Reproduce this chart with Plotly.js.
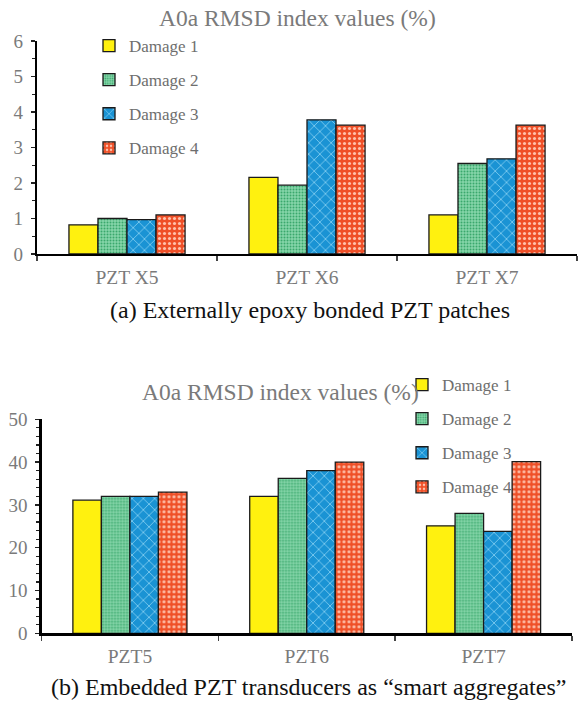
<!DOCTYPE html>
<html>
<head>
<meta charset="utf-8">
<script src="https://cdn.plot.ly/plotly-3.0.1.min.js"></script>
<style>html,body{margin:0;padding:0;background:#fff}#chart{width:584px;height:701px}</style>
</head>
<body>
<div id="chart"></div>
<script>
// ---- data ----
const seriesNames = ["Damage 1", "Damage 2", "Damage 3", "Damage 4"];
const catsA = ["PZT X5", "PZT X6", "PZT X7"];
const catsB = ["PZT5", "PZT6", "PZT7"];
const dmg1A = [0.82, 2.16, 1.10];
const dmg2A = [1.00, 1.94, 2.55];
const dmg3A = [0.97, 3.78, 2.68];
const dmg4A = [1.10, 3.63, 3.63];
const dmg1B = [31.1, 32.0, 25.1];
const dmg2B = [32.0, 36.2, 28.0];
const dmg3B = [32.0, 38.0, 23.8];
const dmg4B = [33.0, 40.0, 40.1];
const titleA = "A0a RMSD index values (%)";
const titleB = "A0a RMSD index values (%)";
const captionA = "(a) Externally epoxy bonded PZT patches";
const captionB = "(b) Embedded PZT transducers as \u201csmart aggregates\u201d";

// ---- styles ----
const FONT = "'Liberation Serif', 'Times New Roman', serif";
const GRAY = "#7a7a7a";
const styles = [
  {color: "#fff10f", pattern: {shape: ""}},
  {color: "#80d3a6", pattern: {shape: ".", bgcolor: "#86d6aa", fgcolor: "#3aa86c", size: 3, solidity: 0.35}},
  {color: "#1b95d5", pattern: {shape: "x", bgcolor: "#1a93d4", fgcolor: "#8fd4f4", size: 8, solidity: 0.18}},
  {color: "#f0522a", pattern: {shape: ".", bgcolor: "#ef5028", fgcolor: "#ffc2ad", size: 5, solidity: 0.3}}
];
const W = 584, H = 701;
const A = {l: 37, r: 577, t: 41, b: 254};
const B = {l: 41.5, r: 572, t: 419.3, b: 633.3};

const seriesA = [dmg1A, dmg2A, dmg3A, dmg4A];
const seriesB = [dmg1B, dmg2B, dmg3B, dmg4B];
const traces = [];
seriesA.forEach((vals, i) => {
  traces.push({
    type: "bar", name: seriesNames[i], x: catsA, y: vals, xaxis: "x", yaxis: "y",
    legend: "legend", legendgroup: "a" + i,
    marker: {color: styles[i].color, pattern: styles[i].pattern, line: {color: "#1a1a1a", width: 1.3}},
    hoverinfo: "skip"
  });
});
seriesB.forEach((vals, i) => {
  traces.push({
    type: "bar", name: seriesNames[i], x: catsB, y: vals, xaxis: "x2", yaxis: "y2",
    legend: "legend2", legendgroup: "b" + i,
    marker: {color: styles[i].color, pattern: styles[i].pattern, line: {color: "#1a1a1a", width: 1.3}},
    hoverinfo: "skip"
  });
});

function xdom(p) { return [p.l / W, p.r / W]; }
function ydom(p) { return [(H - p.b) / H, (H - p.t) / H]; }

const mainX = (p, cats) => ({
  domain: xdom(p), type: "category", categoryarray: cats, range: [-0.5, 2.5],
  showline: true, linecolor: "#000", linewidth: 2.2,
  ticks: "outside", tickson: "boundaries", ticklen: 5, tickwidth: 1.5, tickcolor: "#444",
  showgrid: false, zeroline: false, fixedrange: true,
  tickfont: {family: FONT, size: 19.5, color: GRAY}, ticklabelstandoff: 4
});
const overX = (over, anchor) => ({
  overlaying: over, anchor: anchor, type: "linear", range: [-0.5, 2.5],
  tick0: -0.5, dtick: 1, ticks: "inside", ticklen: 6, tickwidth: 1.5, tickcolor: "#444",
  minor: {tick0: 0, dtick: 1, ticks: "outside", ticklen: 4, tickwidth: 1.2, tickcolor: "#444", showgrid: false},
  showticklabels: false, showline: false, showgrid: false, zeroline: false, fixedrange: true
});
const mainY = (p, range, dt, mdt) => ({
  domain: ydom(p), range: range, dtick: dt, tick0: 0,
  showline: true, linecolor: "#000", linewidth: 2.2,
  ticks: "outside", ticklen: 4, tickwidth: 1.5, tickcolor: "#222",
  minor: {dtick: mdt, tick0: 0, ticks: "outside", ticklen: 3, tickwidth: 1.2, tickcolor: "#222", showgrid: false},
  showgrid: false, zeroline: false, fixedrange: true,
  tickfont: {family: FONT, size: 19, color: GRAY}, ticklabelstandoff: 4
});
const overY = (over, anchor, range, dt) => ({
  overlaying: over, anchor: anchor, range: range, dtick: dt, tick0: 0,
  ticks: "inside", ticklen: 5, tickwidth: 1.5, tickcolor: "#222",
  showticklabels: false, showline: false, showgrid: false, zeroline: false, fixedrange: true
});

const legendBase = {
  bgcolor: "rgba(0,0,0,0)", borderwidth: 0, tracegroupgap: 9, itemwidth: 30,
  font: {family: FONT, size: 17, color: "#6e6e6e"}, xanchor: "left", yanchor: "top",
  traceorder: "grouped", itemclick: false, itemdoubleclick: false
};

const layout = {
  width: W, height: H, margin: {l: 0, r: 0, t: 0, b: 0},
  paper_bgcolor: "#fff", plot_bgcolor: "rgba(0,0,0,0)",
  barmode: "group", bargap: 0.355, bargroupgap: 0,
  showlegend: true,
  xaxis: mainX(A, catsA),
  yaxis: Object.assign(mainY(A, [0, 6], 1, 0.5), {anchor: "x"}),
  xaxis2: Object.assign(mainX(B, catsB), {anchor: "y2"}),
  yaxis2: Object.assign(mainY(B, [0, 50], 10, 2), {anchor: "x2"}),
  xaxis3: overX("x", "y"),
  yaxis3: overY("y", "x", [0, 6], 1),
  xaxis4: overX("x2", "y2"),
  yaxis4: overY("y2", "x2", [0, 50], 10),
  legend: Object.assign({}, legendBase, {x: 89 / W, y: 1 - 28 / H}),
  legend2: Object.assign({}, legendBase, {x: 402 / W, y: 1 - 367 / H}),
  annotations: [
    {text: titleA, xref: "paper", yref: "paper", x: 297 / W, y: 1 - 18 / H, xanchor: "center", yanchor: "middle",
     showarrow: false, font: {family: FONT, size: 23.5, color: GRAY}},
    {text: titleB, xref: "paper", yref: "paper", x: 280 / W, y: 1 - 392 / H, xanchor: "center", yanchor: "middle",
     showarrow: false, font: {family: FONT, size: 23.5, color: GRAY}},
    {text: captionA, xref: "paper", yref: "paper", x: 310 / W, y: 1 - 310 / H, xanchor: "center", yanchor: "middle",
     showarrow: false, font: {family: FONT, size: 24, color: "#111"}},
    {text: captionB, xref: "paper", yref: "paper", x: 309 / W, y: 1 - 687 / H, xanchor: "center", yanchor: "middle",
     showarrow: false, font: {family: FONT, size: 24, color: "#111"}}
  ]
};

Plotly.newPlot("chart", traces, layout, {displayModeBar: false, staticPlot: true});
</script>
</body>
</html>
